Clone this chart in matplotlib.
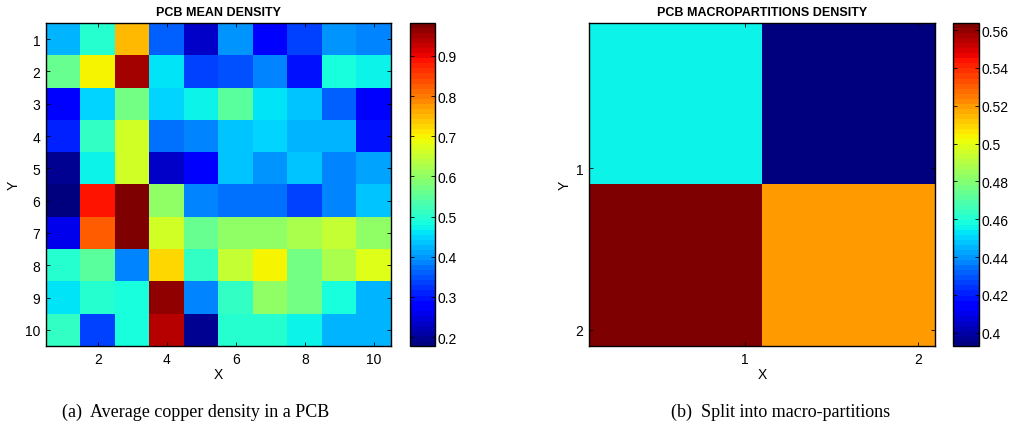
import numpy as np
import matplotlib
matplotlib.use("Agg")
import matplotlib.pyplot as plt
from matplotlib.colors import ListedColormap

plt.rcParams['font.family'] = ['Liberation Sans', 'DejaVu Sans']

# ---- data ----
mean_density = [
    [0.427, 0.497, 0.747, 0.359, 0.240, 0.399, 0.270, 0.339, 0.399, 0.389],
    [0.559, 0.700, 0.947, 0.460, 0.330, 0.349, 0.379, 0.299, 0.484, 0.467],
    [0.290, 0.451, 0.580, 0.451, 0.467, 0.548, 0.459, 0.439, 0.359, 0.290],
    [0.309, 0.508, 0.659, 0.369, 0.379, 0.439, 0.451, 0.427, 0.419, 0.299],
    [0.196, 0.467, 0.659, 0.240, 0.270, 0.439, 0.399, 0.439, 0.379, 0.409],
    [0.180, 0.894, 0.982, 0.596, 0.379, 0.369, 0.369, 0.339, 0.379, 0.439],
    [0.258, 0.823, 0.982, 0.659, 0.559, 0.596, 0.596, 0.620, 0.645, 0.596],
    [0.497, 0.548, 0.379, 0.725, 0.508, 0.645, 0.700, 0.570, 0.630, 0.672],
    [0.465, 0.497, 0.480, 0.964, 0.389, 0.508, 0.596, 0.570, 0.480, 0.427],
    [0.508, 0.330, 0.480, 0.934, 0.196, 0.497, 0.497, 0.467, 0.427, 0.419],
]
mean_vmin, mean_vmax = 0.178, 0.982
mean_xticks = [2, 4, 6, 8, 10]
mean_yticks = [1, 2, 3, 4, 5, 6, 7, 8, 9, 10]
mean_cticks = [0.2, 0.3, 0.4, 0.5, 0.6, 0.7, 0.8, 0.9]

macro_density = [
    [0.456, 0.395],
    [0.563, 0.521],
]
macro_vmin, macro_vmax = 0.393, 0.5637
macro_ticks = [1, 2]
macro_cticks = [0.40, 0.42, 0.44, 0.46, 0.48, 0.50, 0.52, 0.54, 0.56]
macro_ctick_labels = ["0.4", "0.42", "0.44", "0.46", "0.48", "0.5", "0.52", "0.54", "0.56"]

titles = ["PCB MEAN DENSITY", "PCB MACROPARTITIONS DENSITY"]
captions = ["(a)  Average copper density in a PCB", "(b)  Split into macro-partitions"]

cmap = ListedColormap(plt.get_cmap('jet')(np.linspace(0, 1, 64)))

W, H = 1009, 439
fig = plt.figure(figsize=(W / 100, H / 100), dpi=100)

def fr(x0, y0, x1, y1):
    return [x0 / W, 1 - y1 / H, (x1 - x0) / W, (y1 - y0) / H]

tick_fs = 10

def style_axes(ax):
    ax.tick_params(direction='in', top=True, right=True, length=3, width=0.6,
                   labelsize=tick_fs, pad=4)
    for s in ax.spines.values():
        s.set_linewidth(1.0)

def style_cbar(cax):
    cax.tick_params(direction='in', left=True, right=True, length=3, width=0.6,
                    labelsize=tick_fs, pad=2)
    for s in cax.spines.values():
        s.set_linewidth(1.0)

# ---- left ----
ax1 = fig.add_axes(fr(46, 24, 391, 347))
d1 = np.array(mean_density)
im1 = ax1.imshow(d1, cmap=cmap, vmin=mean_vmin, vmax=mean_vmax, aspect='auto',
                 extent=[0.5, 10.5, 10.5, 0.5], interpolation='nearest')
ax1.set_xticks(mean_xticks)
ax1.set_yticks(mean_yticks)
style_axes(ax1)
ax1.set_title(titles[0], fontsize=9, fontweight='bold', pad=6)
ax1.set_xlabel("X", fontsize=10, labelpad=1)
ax1.set_ylabel("Y", fontsize=10, labelpad=3)
cax1 = fig.add_axes(fr(410, 24, 435, 347))
cb1 = fig.colorbar(im1, cax=cax1, ticks=mean_cticks)
cb1.outline.set_linewidth(1.0)
style_cbar(cax1)

# ---- right ----
ax2 = fig.add_axes(fr(589, 24, 935, 347))
d2 = np.array(macro_density)
im2 = ax2.imshow(d2, cmap=cmap, vmin=macro_vmin, vmax=macro_vmax, aspect='auto',
                 extent=[0.1, 2.1, 2.1, 0.1], interpolation='nearest')
ax2.set_xlim(0.1, 2.1)
ax2.set_ylim(2.1, 0.1)
ax2.set_xticks(macro_ticks)
ax2.set_yticks(macro_ticks)
style_axes(ax2)
ax2.set_title(titles[1], fontsize=9, fontweight='bold', pad=6)
ax2.set_xlabel("X", fontsize=10, labelpad=1)
ax2.set_ylabel("Y", fontsize=10, labelpad=3)
cax2 = fig.add_axes(fr(953, 24, 979, 347))
cb2 = fig.colorbar(im2, cax=cax2, ticks=macro_cticks)
cb2.ax.set_yticklabels(macro_ctick_labels)
cb2.outline.set_linewidth(1.0)
style_cbar(cax2)

# ---- captions ----
fig.text(196 / W, 1 - 412 / H, captions[0], ha='center', va='center',
         fontsize=13, family=['Liberation Serif', 'DejaVu Serif'])
fig.text(781 / W, 1 - 412 / H, captions[1], ha='center', va='center',
         fontsize=13, family=['Liberation Serif', 'DejaVu Serif'])

fig.savefig("out.png", dpi=100)
